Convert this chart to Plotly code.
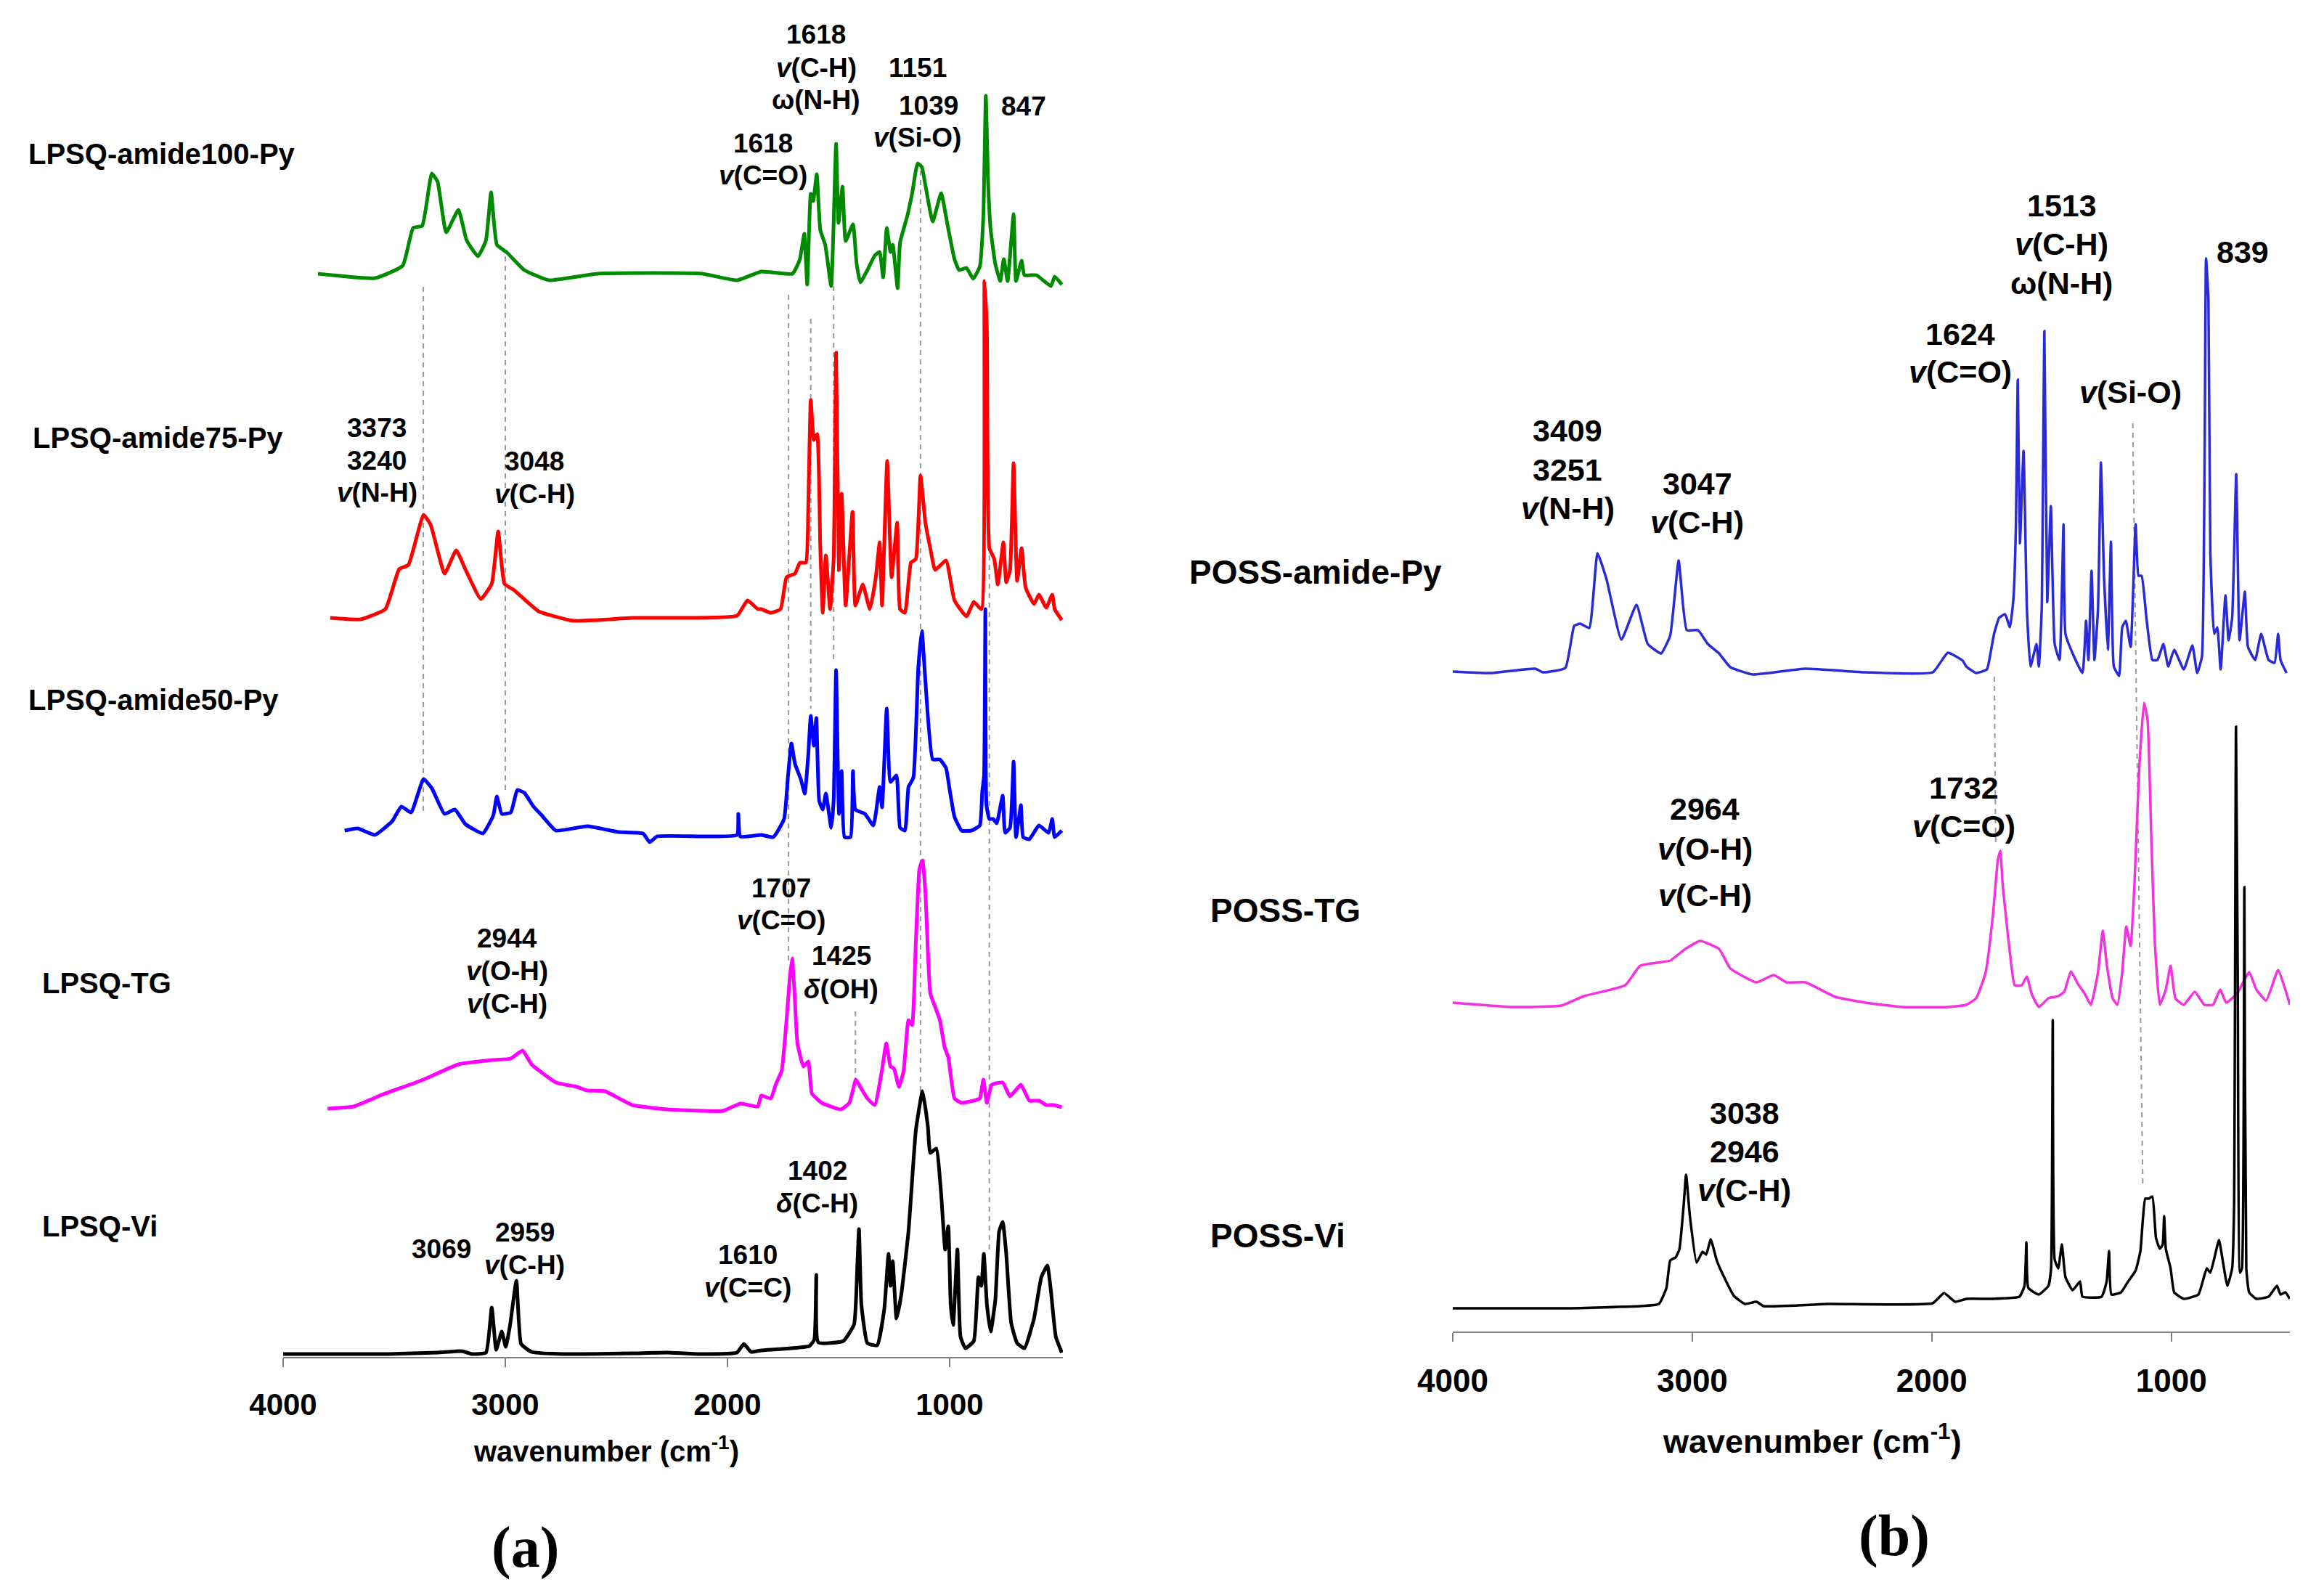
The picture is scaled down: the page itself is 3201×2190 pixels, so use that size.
import plotly.graph_objects as go

W, H = 3201, 2190

# ---------------- Panel (a) spectra: wavenumber (cm-1) and stacked intensity (a.u.) ----------------
a100_wn = [3843, 3586, 3462, 3415, 3374, 3331, 3305, 3266, 3211, 3174, 3123, 3087, 3064, 3038, 2992, 2914, 2803, 2585, 2114, 1956,
           1848, 1707, 1674, 1654, 1641, 1625, 1614, 1598, 1582, 1560, 1533, 1522, 1511, 1500, 1482, 1468, 1435, 1419, 1402, 1370,
           1337, 1315, 1299, 1283, 1266, 1256, 1234, 1223, 1190, 1169, 1144, 1125, 1109, 1076, 1038, 1011, 978, 957, 924, 894,
           864, 848, 837, 826, 815, 794, 772, 756, 739, 712, 701, 676, 663, 609, 544, 527, 495]
a100_y = [1492, 1486, 1503, 1555, 1558, 1630, 1619, 1549, 1580, 1538, 1516, 1538, 1604, 1532, 1521, 1497, 1483, 1492, 1492, 1483,
          1495, 1492, 1512, 1547, 1477, 1602, 1592, 1629, 1552, 1532, 1475, 1562, 1671, 1562, 1612, 1537, 1560, 1507, 1480, 1497,
          1517, 1522, 1487, 1555, 1522, 1532, 1472, 1535, 1572, 1602, 1644, 1639, 1614, 1564, 1603, 1562, 1512, 1497, 1500, 1485,
          1502, 1572, 1737, 1612, 1552, 1505, 1482, 1512, 1482, 1574, 1482, 1510, 1490, 1490, 1475, 1488, 1477]

a75_wn = [3788, 3651, 3540, 3478, 3436, 3368, 3336, 3273, 3221, 3180, 3110, 3061, 3032, 3004, 2960, 2850, 2693, 2428, 1957, 1910,
          1863, 1848, 1805, 1761, 1734, 1696, 1674, 1647, 1636, 1625, 1611, 1596, 1582, 1571, 1557, 1538, 1522, 1511, 1498, 1486,
          1468, 1437, 1424, 1391, 1359, 1332, 1315, 1304, 1281, 1261, 1236, 1223, 1201, 1174, 1152, 1131, 1109, 1087, 1065, 1016,
          978, 924, 891, 857, 843, 832, 821, 799, 783, 758, 745, 728, 712, 696, 676, 658, 620, 598, 565, 538, 527, 495]
a75_y = [1018, 1016, 1030, 1085, 1091, 1160, 1146, 1079, 1111, 1085, 1044, 1065, 1137, 1065, 1056, 1027, 1014, 1018, 1021, 1042,
         1030, 1030, 1025, 1030, 1074, 1079, 1094, 1094, 1174, 1318, 1263, 1271, 1114, 1025, 1104, 1030, 1099, 1383, 1084, 1189,
         1035, 1164, 1035, 1064, 1030, 1074, 1122, 1035, 1234, 1074, 1149, 1030, 1025, 1094, 1099, 1214, 1149, 1114, 1084, 1097,
         1042, 1020, 1040, 1030, 1482, 1413, 1114, 1099, 1064, 1122, 1067, 1084, 1231, 1069, 1114, 1060, 1037, 1050, 1032, 1050, 1030, 1015]

a50_wn = [3723, 3665, 3587, 3509, 3468, 3424, 3368, 3330, 3274, 3227, 3180, 3101, 3054, 3038, 3016, 2975, 2946, 2914, 2873, 2836,
          2772, 2631, 2490, 2380, 2350, 2317, 2114, 1957, 1951, 1942, 1848, 1794, 1745, 1728, 1712, 1696, 1669, 1652, 1636, 1625,
          1611, 1600, 1587, 1571, 1557, 1533, 1522, 1511, 1498, 1486, 1473, 1446, 1435, 1424, 1381, 1343, 1315, 1304, 1283, 1266,
          1239, 1223, 1201, 1185, 1163, 1141, 1125, 1109, 1076, 1044, 1016, 1000, 978, 946, 902, 864, 853, 845, 839, 834,
          821, 804, 788, 761, 750, 728, 712, 701, 679, 669, 641, 598, 554, 538, 527, 495]
a50_y = [725, 728, 719, 738, 758, 750, 796, 783, 748, 754, 734, 721, 746, 772, 748, 750, 781, 777, 758, 746,
         725, 731, 723, 721, 709, 717, 717, 719, 748, 717, 719, 716, 741, 798, 845, 817, 795, 776, 830, 883,
         842, 880, 766, 754, 776, 729, 766, 946, 748, 807, 716, 716, 807, 754, 748, 732, 785, 757, 893, 792,
         801, 729, 725, 785, 798, 949, 1000, 931, 823, 823, 811, 782, 744, 725, 725, 732, 779, 800, 1030, 760,
         741, 741, 735, 773, 722, 729, 820, 716, 760, 716, 713, 732, 722, 741, 716, 725]

atg_wn = [3800, 3682, 3556, 3368, 3211, 3054, 2976, 2922, 2882, 2772, 2678, 2631, 2552, 2428, 2272, 2020, 1942, 1863, 1848, 1805,
          1783, 1756, 1734, 1720, 1709, 1698, 1685, 1658, 1636, 1620, 1576, 1489, 1451, 1422, 1402, 1370, 1337, 1305, 1285, 1266,
          1250, 1228, 1207, 1185, 1169, 1152, 1136, 1122, 1109, 1087, 1065, 1044, 1022, 1006, 978, 946, 891, 864, 848, 832,
          810, 761, 728, 679, 641, 598, 565, 533, 495]
atg_y = [342, 345, 361, 382, 403, 409, 411, 422, 403, 378, 372, 367, 366, 347, 341, 339, 349, 345, 360, 356,
         375, 394, 464, 520, 549, 501, 432, 400, 407, 363, 350, 341, 350, 382, 372, 356, 347, 394, 432, 400,
         397, 372, 394, 464, 457, 571, 672, 684, 640, 501, 482, 464, 426, 413, 356, 350, 353, 356, 382, 350,
         375, 378, 359, 375, 353, 353, 347, 347, 344]

avi_wn = [4000, 3525, 3305, 3195, 3149, 3087, 3061, 3041, 3016, 2998, 2979, 2950, 2929, 2882, 2740, 2428, 2270, 2114, 1957, 1926,
          1894, 1848, 1631, 1609, 1600, 1591, 1478, 1430, 1415, 1408, 1397, 1370, 1326, 1294, 1275, 1266, 1256, 1239, 1218, 1185,
          1152, 1122, 1098, 1087, 1060, 1038, 1020, 1006, 995, 984, 965, 951, 929, 891, 870, 857, 846, 832, 815, 794,
          777, 761, 745, 723, 696, 663, 620, 587, 560, 544, 522, 495]
avi_y = [4, 4, 6, 8, 4, 6, 68, 10, 35, 14, 43, 105, 18, 7, 4, 5, 6, 4, 6, 18,
         7, 9, 15, 24, 113, 20, 22, 45, 129, 176, 72, 19, 16, 66, 142, 98, 132, 53, 85, 173,
         312, 366, 318, 281, 287, 224, 148, 180, 72, 44, 148, 28, 12, 22, 110, 98, 142, 72, 35, 79,
         173, 186, 142, 47, 19, 12, 53, 110, 126, 91, 28, 6]

# ---------------- Panel (b) spectra ----------------
bpy_wn = [4000, 3843, 3656, 3624, 3530, 3493, 3468, 3430, 3396, 3358, 3296, 3233, 3186, 3130, 3092, 3057, 3023, 2976, 2935, 2888,
          2841, 2747, 2528, 2278, 1996, 1933, 1871, 1856, 1815, 1770, 1755, 1740, 1719, 1694, 1674, 1659, 1649, 1641, 1632, 1617,
          1603, 1588, 1563, 1553, 1541, 1530, 1518, 1503, 1487, 1467, 1450, 1442, 1412, 1371, 1356, 1346, 1333, 1321, 1306, 1294,
          1281, 1265, 1252, 1240, 1218, 1205, 1190, 1170, 1149, 1137, 1124, 1104, 1079, 1058, 1033, 1013, 988, 948, 912, 892,
          872, 855, 845, 837, 821, 808, 794, 774, 761, 746, 729, 715, 693, 680, 650, 625, 594, 569, 554, 544, 519]
bpy_y = [909, 907, 913, 908, 914, 972, 975, 969, 1072, 1036, 953, 1001, 947, 934, 959, 1062, 966, 966, 947, 934,
         915, 905, 913, 908, 908, 935, 924, 916, 907, 912, 934, 961, 983, 988, 970, 1010, 1108, 1311, 1086, 1213,
         996, 916, 947, 916, 996, 1378, 1005, 1137, 947, 925, 1112, 961, 934, 907, 979, 925, 1048, 925, 996, 1197,
         1041, 939, 1088, 916, 903, 970, 979, 943, 1112, 1041, 1041, 983, 925, 925, 947, 916, 939, 912, 945, 907,
         930, 1478, 1420, 1072, 961, 970, 912, 1014, 952, 983, 1181, 952, 1019, 943, 925, 961, 925, 921, 961, 925, 907]

btg_wn = [4000, 3750, 3546, 3452, 3280, 3217, 3092, 3029, 2967, 2888, 2841, 2732, 2660, 2607, 2528, 2403, 2278, 2122, 1933, 1856,
          1815, 1775, 1745, 1724, 1714, 1704, 1689, 1669, 1654, 1624, 1603, 1583, 1553, 1513, 1472, 1447, 1419, 1392, 1361, 1336,
          1306, 1286, 1270, 1245, 1225, 1205, 1188, 1170, 1154, 1134, 1114, 1099, 1084, 1069, 1048, 1023, 1003, 983, 948, 902,
          862, 826, 796, 771, 726, 675, 645, 604, 554, 524, 505]
btg_y = [453, 447, 449, 462, 477, 504, 511, 527, 538, 527, 500, 481, 491, 481, 481, 461, 453, 447, 447, 450,
         459, 495, 573, 650, 662, 615, 567, 507, 477, 477, 489, 465, 447, 459, 462, 468, 496, 480, 465, 450,
         495, 552, 507, 459, 450, 495, 558, 531, 615, 776, 866, 842, 686, 537, 450, 471, 504, 459, 450, 468,
         450, 450, 471, 453, 465, 495, 471, 456, 498, 471, 450]

bvi_wn = [4000, 3530, 3217, 3139, 3108, 3092, 3070, 3054, 3036, 3026, 3010, 2982, 2957, 2942, 2923, 2898, 2873, 2826, 2780, 2732,
          2702, 2434, 1996, 1949, 1902, 1855, 1755, 1634, 1613, 1605, 1597, 1553, 1513, 1502, 1495, 1487, 1472, 1457, 1442, 1412,
          1381, 1371, 1291, 1270, 1260, 1250, 1210, 1180, 1149, 1129, 1109, 1094, 1079, 1064, 1048, 1036, 1030, 1023, 1003, 988,
          948, 887, 852, 837, 801, 786, 766, 746, 738, 730, 723, 713, 705, 695, 687, 675, 645, 594, 559, 544, 524, 505]
bvi_y = [32, 32, 35, 38, 60, 98, 102, 113, 174, 216, 159, 95, 110, 106, 127, 98, 79, 49, 38, 41,
         35, 38, 39, 53, 41, 45, 45, 48, 63, 123, 60, 51, 63, 87, 429, 99, 87, 120, 75, 57,
         69, 48, 48, 69, 111, 51, 54, 69, 84, 111, 183, 183, 186, 129, 114, 120, 159, 114, 87, 54,
         45, 51, 87, 81, 126, 99, 63, 87, 171, 833, 507, 81, 87, 612, 87, 54, 45, 48, 63, 51, 54, 45]

# Guide (dashed) lines: wavenumber at top / bottom and intensity at top / bottom
a_guide_wn_top = [3369, 3000, 1725, 1625, 1522, 1131, 821, 1424]
a_guide_wn_bot = [3369, 3000, 1725, 1625, 1522, 1131, 821, 1424]
a_guide_y_top = [1474, 1516, 1463, 1430, 1475, 1634, 1104, 476]
a_guide_y_bot = [750, 776, 546, 893, 956, 366, 142, 381]
b_guide_wn_top = [1739, 1161]
b_guide_wn_bot = [1733, 1119]
b_guide_y_top = [902, 1251]
b_guide_y_bot = [668, 198]

# Peak labels
a_label_text = ["1618", "<i>v</i>(C-H)", "ω(N-H)", "1151", "1039", "<i>v</i>(Si-O)", "847", "1618", "<i>v</i>(C=O)",
                "3373", "3240", "<i>v</i>(N-H)", "3048", "<i>v</i>(C-H)", "1707", "<i>v</i>(C=O)", "1425", "<i>δ</i>(OH)",
                "2944", "<i>v</i>(O-H)", "<i>v</i>(C-H)", "1402", "<i>δ</i>(C-H)", "3069", "2959", "<i>v</i>(C-H)",
                "1610", "<i>v</i>(C=C)"]
a_label_wn = [1601, 1601, 1601, 1144, 1095, 1144, 667, 1840, 1840, 3578, 3578, 3578, 2869, 2869, 1758, 1758, 1487, 1487,
              2993, 2993, 2993, 1595, 1595, 3288, 2912, 2912, 1908, 1908]
a_label_y = [1822, 1776, 1732, 1776, 1724, 1680, 1723, 1672, 1628, 1280, 1235, 1191, 1234, 1189, 646, 602, 553, 507,
             577, 532, 487, 257, 212, 149, 172, 127, 141, 96]

b_label_text = ["1513", "<i>v</i>(C-H)", "ω(N-H)", "839", "1624", "<i>v</i>(C=O)", "<i>v</i>(Si-O)", "3409", "3251",
                "<i>v</i>(N-H)", "3047", "<i>v</i>(C-H)", "1732", "<i>v</i>(C=O)", "2964", "<i>v</i>(O-H)", "<i>v</i>(C-H)",
                "3038", "2946", "<i>v</i>(C-H)"]
b_label_wn = [1458, 1458, 1458, 703, 1882, 1882, 1170, 3521, 3521, 3521, 2979, 2979, 1867, 1867, 2948, 2948, 2948,
              2782, 2782, 2782]
b_label_y = [1551, 1498, 1444, 1487, 1374, 1322, 1294, 1241, 1187, 1134, 1168, 1115, 749, 696, 720, 665, 601,
             301, 248, 195]

a_names = ["LPSQ-amide100-Py", "LPSQ-amide75-Py", "LPSQ-amide50-Py", "LPSQ-TG", "LPSQ-Vi"]
b_names = ["POSS-amide-Py", "POSS-TG", "POSS-Vi"]
tick_vals = [4000, 3000, 2000, 1000]

# ---------------- layout constants (pixels) ----------------
FONT = "Arial, Liberation Sans, sans-serif"
SERIF = "Liberation Serif, Times New Roman, serif"
A_X0, A_X1, A_AXIS = 382, 1456, 1861
B_X0, B_X1, B_AXIS = 1993, 3146, 1826
A_RANGE = [4000, 490]
B_RANGE = [4000, 505]
a_name_pos = [(29, 204), (35, 595), (29, 956), (48, 1346), (48, 1681)]
b_name_pos = [(1628, 780), (1657, 1246), (1657, 1694)]


def px(x):
    return x / W


def py(y):
    return 1 - y / H


fig = go.Figure()

guide_style = dict(color="#9a9a9a", width=2, dash="7px,6px")
for wt, wb, yt, yb in zip(a_guide_wn_top, a_guide_wn_bot, a_guide_y_top, a_guide_y_bot):
    fig.add_trace(go.Scatter(x=[wt, wb], y=[yt, yb], mode="lines", line=guide_style,
                             xaxis="x", yaxis="y", hoverinfo="skip", showlegend=False))
for wt, wb, yt, yb in zip(b_guide_wn_top, b_guide_wn_bot, b_guide_y_top, b_guide_y_bot):
    fig.add_trace(go.Scatter(x=[wt, wb], y=[yt, yb], mode="lines", line=guide_style,
                             xaxis="x2", yaxis="y2", hoverinfo="skip", showlegend=False))

a_series = [(a100_wn, a100_y, "#008a00"), (a75_wn, a75_y, "#ff0000"), (a50_wn, a50_y, "#0000ff"),
            (atg_wn, atg_y, "#ff00ff"), (avi_wn, avi_y, "#000000")]
b_series = [(bpy_wn, bpy_y, "#2a2ad6"), (btg_wn, btg_y, "#f532e0"), (bvi_wn, bvi_y, "#000000")]

for wn, yy, col in a_series:
    assert len(wn) == len(yy)
    fig.add_trace(go.Scatter(x=wn, y=yy, mode="lines", line=dict(color=col, width=5, shape="spline", smoothing=0.4),
                             xaxis="x", yaxis="y", hoverinfo="skip", showlegend=False))
for wn, yy, col in b_series:
    assert len(wn) == len(yy)
    fig.add_trace(go.Scatter(x=wn, y=yy, mode="lines", line=dict(color=col, width=3.5, shape="spline", smoothing=0.4),
                             xaxis="x2", yaxis="y2", hoverinfo="skip", showlegend=False))

ann = []
for t, w, y in zip(a_label_text, a_label_wn, a_label_y):
    ann.append(dict(text=t, x=w, y=y, xref="x", yref="y", showarrow=False, xanchor="center", yanchor="middle",
                    font=dict(family=FONT, size=37, color="black", weight="bold")))
for t, w, y in zip(b_label_text, b_label_wn, b_label_y):
    ann.append(dict(text=t, x=w, y=y, xref="x2", yref="y2", showarrow=False, xanchor="center", yanchor="middle",
                    font=dict(family=FONT, size=43, color="black", weight="bold")))
for name, (x, y) in zip(a_names, a_name_pos):
    ann.append(dict(text=name, x=px(x), y=py(y), xref="paper", yref="paper", showarrow=False,
                    xanchor="left", yanchor="middle", font=dict(family=FONT, size=40, color="black", weight="bold")))
for name, (x, y) in zip(b_names, b_name_pos):
    ann.append(dict(text=name, x=px(x), y=py(y), xref="paper", yref="paper", showarrow=False,
                    xanchor="left", yanchor="middle", font=dict(family=FONT, size=46, color="black", weight="bold")))

ann.append(dict(text="wavenumber (cm<sup>-1</sup>)", x=px(827), y=py(1988), xref="paper", yref="paper",
                showarrow=False, xanchor="center", yanchor="middle",
                font=dict(family=FONT, size=40, color="black", weight="bold")))
ann.append(dict(text="wavenumber (cm<sup>-1</sup>)", x=px(2488), y=py(1974), xref="paper", yref="paper",
                showarrow=False, xanchor="center", yanchor="middle",
                font=dict(family=FONT, size=45, color="black", weight="bold")))
ann.append(dict(text="(a)", x=px(715), y=py(2123), xref="paper", yref="paper", showarrow=False,
                xanchor="center", yanchor="middle",
                font=dict(family=SERIF, size=80, color="black", weight="bold")))
ann.append(dict(text="(b)", x=px(2601), y=py(2107), xref="paper", yref="paper", showarrow=False,
                xanchor="center", yanchor="middle",
                font=dict(family=SERIF, size=80, color="black", weight="bold")))


def xaxis_style(x0, x1, rng, fsize):
    return dict(domain=[px(x0), px(x1)], range=rng, showgrid=False, zeroline=False, automargin=False,
                showline=True, linecolor="#7f7f7f", linewidth=2,
                ticks="outside", ticklen=12, tickwidth=2, tickcolor="#7f7f7f",
                tickvals=tick_vals, ticktext=[str(v) for v in tick_vals],
                tickfont=dict(family=FONT, size=fsize, color="black", weight="bold"),
                ticklabelstandoff=16, fixedrange=True)


fig.update_layout(
    width=W, height=H,
    margin=dict(l=0, r=0, t=0, b=0, pad=0, autoexpand=False),
    paper_bgcolor="white", plot_bgcolor="white",
    xaxis=dict(anchor="y", **xaxis_style(A_X0, A_X1, A_RANGE, 42)),
    yaxis=dict(anchor="x", domain=[py(A_AXIS), 1], range=[0, A_AXIS], visible=False, automargin=False,
               fixedrange=True),
    xaxis2=dict(anchor="y2", **xaxis_style(B_X0, B_X1, B_RANGE, 44)),
    yaxis2=dict(anchor="x2", domain=[py(B_AXIS), 1], range=[0, B_AXIS], visible=False, automargin=False,
                fixedrange=True),
    annotations=ann,
    showlegend=False,
)

fig.write_html("out.html")
